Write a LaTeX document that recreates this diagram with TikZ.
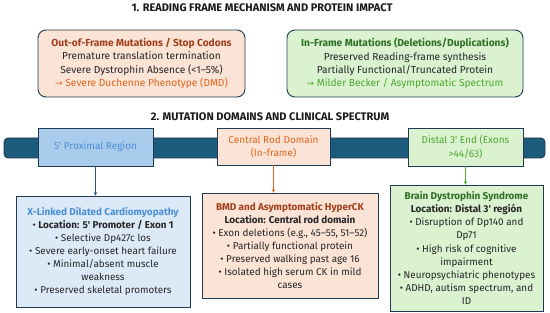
\documentclass[tikz,border=0pt]{standalone}
\usepackage{fontspec}
\setmainfont{Fira Sans}
\newfontfamily\arrowfont{DejaVu Sans}
\newcommand{\pointer}{{\arrowfont\small →}}
\newcommand{\prm}{\textquotesingle}

\begin{document}
\begin{tikzpicture}[x=1pt, y=-1pt,
    framebox/.style={rectangle, rounded corners=8pt, draw=edgecolor, line width=0.9pt,
        align=center, font=\fontsize{10.2}{13.3}\selectfont, inner sep=1pt},
    domainbox/.style={rectangle, draw=edgecolor, line width=0.8pt,
        align=center, font=\fontsize{10}{13.3}\selectfont, inner sep=1pt},
    resultbox/.style={rectangle, draw=edgecolor, line width=0.8pt,
        align=center, font=\fontsize{9.9}{13.1}\selectfont, inner sep=1pt},
    heading/.style={font=\bfseries\fontsize{11}{12}\selectfont, text=headcolor},
    link/.style={line width=0.6pt, -stealth},
]
\definecolor{edgecolor}{HTML}{1E3A52}
\definecolor{headcolor}{HTML}{1A1A1A}
\definecolor{bodytext}{HTML}{262626}
\definecolor{barcolor}{HTML}{1D5B7D}
\definecolor{orangefill}{HTML}{FBE3D6}
\definecolor{greenfill}{HTML}{DAF2D0}
\definecolor{bluefill}{HTML}{A9CBEC}
\definecolor{palebluefill}{HTML}{DCEAF7}
\definecolor{orangedark}{HTML}{A0401A}
\definecolor{orangetext}{HTML}{E0651E}
\definecolor{greendark}{HTML}{2F6E25}
\definecolor{greentext}{HTML}{4EA72E}
\definecolor{bluetext}{HTML}{4A8FD6}
\useasboundingbox (0,0) rectangle (550,313);
  % section 1
  \node[heading] (title_frame) at (262, 8) {1. READING FRAME MECHANISM AND PROTEIN IMPACT};
  \node[framebox, fill=orangefill, text=bodytext, minimum width=207pt, minimum height=67pt] (frame_out) at (141.5, 63.5)
    {{\bfseries\color{orangedark}Out-of-Frame Mutations / Stop Codons}\\
     Premature translation termination\\
     Severe Dystrophin Absence (<1–5\%)\\
     {\color{orangetext}\pointer\ Severe Duchenne Phenotype (DMD)}};
  \node[framebox, fill=greenfill, text=bodytext, minimum width=236pt, minimum height=67pt] (frame_in) at (405, 63.5)
    {{\bfseries\color{greendark}In-Frame Mutations (Deletions/Duplications)}\\
     Preserved Reading-frame synthesis\\
     Partially Functional/Truncated Protein\\
     {\color{greentext}\pointer\ Milder Becker / Asymptomatic Spectrum}};
  % section 2
  \node[heading] (title_domain) at (270, 117) {2. MUTATION DOMAINS AND CLINICAL SPECTRUM};
  \node[rectangle, rounded corners=4pt, fill=barcolor, draw=edgecolor, line width=0.8pt,
    minimum width=541pt, minimum height=20pt, inner sep=0pt] (gene_bar) at (274.5, 148) {};
  \node[domainbox, fill=bluefill, text=bluetext, minimum width=115pt, minimum height=38pt] (dom_proximal) at (95.5, 147)
    {5\prm\ Proximal Region};
  \node[domainbox, fill=orangefill, text=orangetext, minimum width=113pt, minimum height=37pt] (dom_central) at (273.5, 146.5)
    {Central Rod Domain\\(In-frame)};
  \node[domainbox, fill=greenfill, text=greentext, minimum width=115pt, minimum height=38pt] (dom_distal) at (465.5, 147)
    {Distal 3\prm\ End (Exons\\>44/63)};
  \node[resultbox, fill=palebluefill, text=bodytext, minimum width=174pt, minimum height=111pt] (res_proximal) at (103, 251.5)
    {{\bfseries\color{bluetext}X-Linked Dilated Cardiomyopathy}\\
     \textbullet\ \textbf{Location: 5\prm\ Promoter / Exon 1}\\
     \textbullet\ Selective Dp427c los\\
     \textbullet\ Severe early-onset heart failure\\
     \textbullet\ Minimal/absent muscle\\ weakness\\
     \textbullet\ Preserved skeletal promoters};
  \node[resultbox, fill=orangefill, text=bodytext, minimum width=176pt, minimum height=105pt] (res_central) at (290, 245.5)
    {{\bfseries\color{orangedark}BMD and Asymptomatic HyperCK}\\
     \textbf{Location: Central rod domain}\\
     \textbullet\ Exon deletions (e.g., 45–55, 51–52)\\
     \textbullet\ Partially functional protein\\
     \textbullet\ Preserved walking past age 16\\
     \textbullet\ Isolated high serum CK in mild\\ cases};
  \node[resultbox, fill=greenfill, text=bodytext, minimum width=153pt, minimum height=126pt] (res_distal) at (466.5, 248)
    {{\bfseries\color{greendark}Brain Dystrophin Syndrome}\\
     \textbf{Location: Distal 3\prm\ región}\\
     \textbullet\ Disruption of Dp140 and\\ Dp71\\
     \textbullet\ High risk of cognitive\\ impairment\\
     \textbullet\ Neuropsychiatric phenotypes\\
     \textbullet\ ADHD, autism spectrum, and\\ ID};
  \draw[link, draw=barcolor] (dom_proximal.south) -- (dom_proximal.south |- res_proximal.north);
  \draw[link, draw=orangetext] (dom_central.south) -- (dom_central.south |- res_central.north);
  \draw[link, draw=greentext] (dom_distal.south) -- (dom_distal.south |- res_distal.north);
\end{tikzpicture}
\end{document}
